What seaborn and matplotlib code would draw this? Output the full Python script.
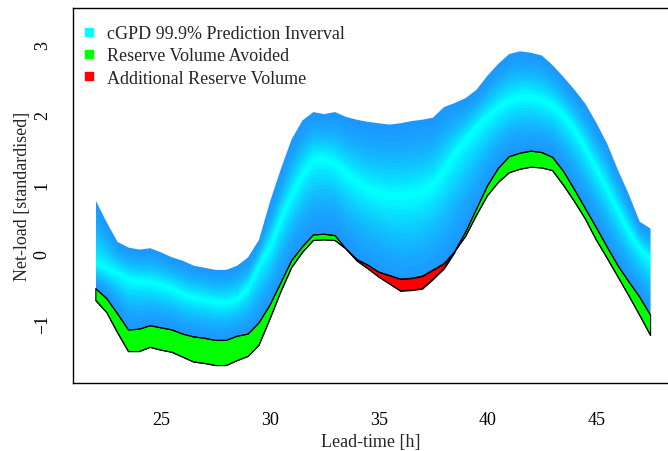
import math
import numpy as np
import pandas as pd
import matplotlib
matplotlib.use("Agg")
import matplotlib.pyplot as plt
import seaborn as sns
from matplotlib.lines import Line2D

# lead-time grid (half-hourly)
lead_time = [22.0, 22.5, 23.0, 23.5, 24.0, 24.5, 25.0, 25.5, 26.0, 26.5,
             27.0, 27.5, 28.0, 28.5, 29.0, 29.5, 30.0, 30.5, 31.0, 31.5,
             32.0, 32.5, 33.0, 33.5, 34.0, 34.5, 35.0, 35.5, 36.0, 36.5,
             37.0, 37.5, 38.0, 38.5, 39.0, 39.5, 40.0, 40.5, 41.0, 41.5,
             42.0, 42.5, 43.0, 43.5, 44.0, 44.5, 45.0, 45.5, 46.0, 46.5,
             47.0, 47.5]

# upper edge of cGPD 99.9% interval
upper = [0.76, 0.45, 0.17, 0.09, 0.06, 0.08, 0.02, -0.05, -0.10, -0.17,
         -0.20, -0.23, -0.23, -0.17, -0.05, 0.20, 0.74, 1.21, 1.64, 1.91,
         2.03, 2.00, 2.03, 1.96, 1.92, 1.89, 1.87, 1.85, 1.87, 1.90,
         1.92, 1.95, 2.10, 2.16, 2.23, 2.35, 2.55, 2.72, 2.86, 2.90,
         2.88, 2.84, 2.70, 2.53, 2.35, 2.15, 1.88, 1.58, 1.20, 0.85,
         0.46, 0.36]

# median (centre of the fan)
median = [-0.15, -0.22, -0.28, -0.36, -0.40, -0.41, -0.45, -0.50, -0.58, -0.63,
          -0.66, -0.69, -0.70, -0.65, -0.48, -0.15, 0.10, 0.50, 0.85, 1.15,
          1.35, 1.37, 1.30, 1.15, 1.03, 0.93, 0.87, 0.84, 0.83, 0.85,
          0.90, 1.00, 1.20, 1.45, 1.65, 1.82, 1.97, 2.10, 2.20, 2.25,
          2.25, 2.20, 2.12, 1.98, 1.78, 1.52, 1.22, 0.93, 0.62, 0.32,
          0.08, -0.08]

# lower edge of cGPD 99.9% interval
lower = [-0.50, -0.64, -0.86, -1.09, -1.08, -1.03, -1.06, -1.09, -1.15, -1.19,
         -1.21, -1.24, -1.24, -1.18, -1.15, -0.99, -0.74, -0.42, -0.10, 0.10,
         0.27, 0.28, 0.26, 0.07, -0.10, -0.21, -0.33, -0.43, -0.53, -0.52,
         -0.50, -0.36, -0.21, 0.03, 0.31, 0.64, 0.97, 1.22, 1.39, 1.44,
         1.47, 1.45, 1.38, 1.18, 0.92, 0.65, 0.38, 0.10, -0.17, -0.40,
         -0.62, -0.88]

# lower reserve level of the benchmark
benchmark = [-0.67, -0.84, -1.13, -1.40, -1.40, -1.34, -1.38, -1.41, -1.48, -1.55,
             -1.57, -1.60, -1.60, -1.53, -1.47, -1.31, -0.94, -0.55, -0.20, 0.02,
             0.19, 0.20, 0.19, 0.07, -0.08, -0.16, -0.26, -0.31, -0.36, -0.35,
             -0.32, -0.23, -0.14, 0.03, 0.25, 0.55, 0.83, 1.02, 1.16, 1.21,
             1.24, 1.23, 1.19, 0.98, 0.75, 0.50, 0.20, -0.06, -0.33, -0.60,
             -0.88, -1.17]

legend_labels = ["cGPD 99.9% Prediction Inverval",
                 "Reserve Volume Avoided",
                 "Additional Reserve Volume"]
legend_colors = ["#00FFFF", "#00FF00", "#FF0000"]

df = pd.DataFrame({"lead_time": lead_time, "upper": upper, "median": median,
                   "lower": lower, "benchmark": benchmark})

sns.set_style("white")
plt.rcParams["font.family"] = ["Liberation Serif", "DejaVu Serif"]

fig = plt.figure(figsize=(6.68, 4.52), dpi=100)
ax = fig.add_axes([73 / 668, 1 - 384 / 452, 1 - 73 / 668, (384 - 9) / 452])

ymin, ymax = -1.85, 3.52
xmin, xmax = 20.95, 48.3

# fan: gradient from dodgerblue (tails) to cyan (centre)
x = df["lead_time"].values
gx = np.linspace(x[0], x[-1], 1600)
gy = np.linspace(ymin, ymax, 1000)
U = np.interp(gx, x, df["upper"].values)[None, :]
M = np.interp(gx, x, df["median"].values)[None, :]
L = np.interp(gx, x, df["lower"].values)[None, :]
Y = gy[:, None]
t = np.where(Y >= M, (Y - M) / (U - M), (M - Y) / (M - L))
t = np.clip(t, 0, 1)
t = np.floor(t * 20) / 20
w = np.vectorize(math.erf)(1.35 * t)
blue = np.array([30, 144, 255]) / 255
cyan = np.array([0, 255, 255]) / 255
rgba = np.ones(t.shape + (4,))
rgba[..., :3] = cyan * (1 - w[..., None]) + blue * w[..., None]
im = ax.imshow(rgba, extent=[gx[0], gx[-1], ymin, ymax], origin="lower",
               aspect="auto", interpolation="nearest", zorder=1)
fan = ax.fill_between(x, df["lower"], df["upper"], facecolor="none",
                      edgecolor="none", zorder=1)
im.set_clip_path(fan.get_paths()[0], transform=ax.transData)

# reserve volume avoided / additional
ax.fill_between(x, df["benchmark"], df["lower"],
                where=df["benchmark"] <= df["lower"], interpolate=True,
                facecolor="#00FF00", edgecolor="black", linewidth=0.8, zorder=2)
ax.fill_between(x, df["lower"], df["benchmark"],
                where=df["benchmark"] > df["lower"], interpolate=True,
                facecolor="#FF0000", edgecolor="black", linewidth=0.8, zorder=3)
sns.lineplot(data=df, x="lead_time", y="lower", color="black", linewidth=0.8,
             ax=ax, zorder=4)
sns.lineplot(data=df, x="lead_time", y="benchmark", color="black",
             linewidth=0.8, ax=ax, zorder=4)

ax.set_xlim(xmin, xmax)
ax.set_ylim(ymin, ymax)
ax.set_xticks([25, 30, 35, 40, 45])
ax.set_yticks([-1, 0, 1, 2, 3])
ax.tick_params(direction="out", length=8, width=0.9, labelsize=13,
               colors="black", pad=12)
ax.tick_params(axis="y", labelrotation=90, pad=8)
for lab in ax.get_yticklabels():
    lab.set_va("center")
ax.spines["right"].set_visible(False)
for s in ["left", "top", "bottom"]:
    ax.spines[s].set_color("black")
    ax.spines[s].set_linewidth(1.0)

ax.set_xlabel("Lead-time [h]", fontsize=13, labelpad=4)
ax.set_ylabel("Net-load [standardised]", fontsize=13, labelpad=2)

handles = [Line2D([], [], marker="s", linestyle="none", markersize=6,
                  markerfacecolor=c, markeredgecolor=c) for c in legend_colors]
ax.legend(handles, legend_labels, loc="upper left",
          bbox_to_anchor=(0.012, 0.955), frameon=False, fontsize=13,
          handlelength=1.0, handletextpad=0.5, labelspacing=0.3,
          borderpad=0, borderaxespad=0)

fig.savefig("out.png", dpi=100)
